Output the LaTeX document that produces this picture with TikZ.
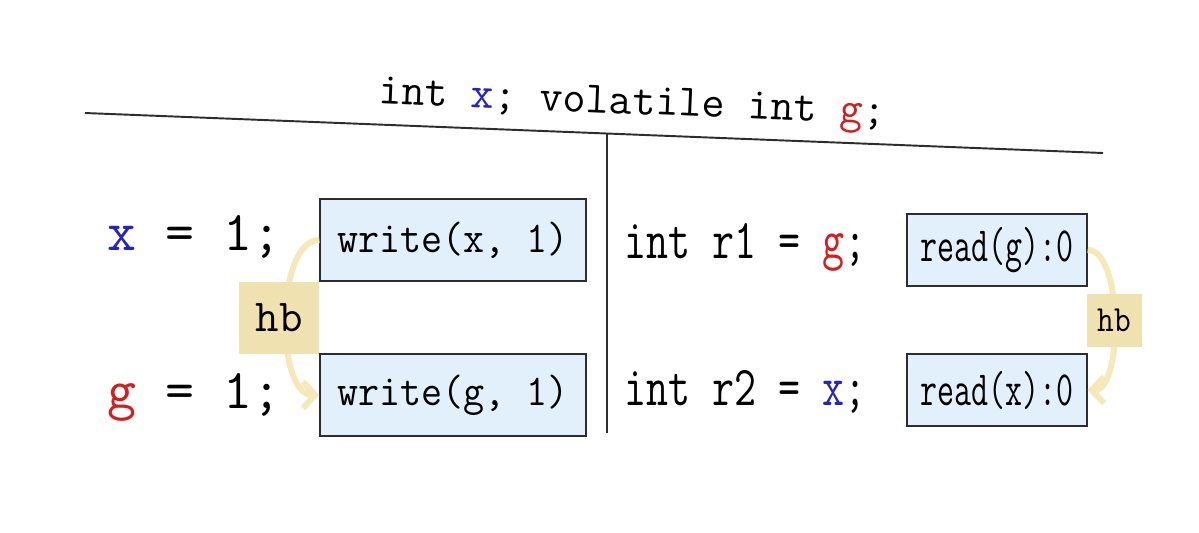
\documentclass[tikz,border=0pt]{standalone}
\usepackage{graphicx}
\usetikzlibrary{arrows.meta,positioning}
\definecolor{varblue} {RGB}{ 35, 35,200}
\definecolor{varred}  {RGB}{210, 30, 30}
\definecolor{evtblue} {RGB}{226,240,251}
\definecolor{hbtan}   {RGB}{240,225,176}
\definecolor{hbarrow} {RGB}{245,233,186}
\definecolor{rulegray}{RGB}{ 45, 45, 45}
\newcommand{\squeeze}[2]{\scalebox{#1}[1]{#2}}
\newcommand{\vx}{\textcolor{varblue}{x}}
\newcommand{\vg}{\textcolor{varred}{g}}
\tikzset{
  code/.style={font=\ttfamily\fontsize{32}{38}\selectfont,
               inner sep=0pt,anchor=base west},
  evt/.style={draw=rulegray,fill=evtblue,line width=0.8pt,
              minimum width=5.32cm,minimum height=1.64cm,inner sep=0pt,
              font=\ttfamily\fontsize{25}{30}\selectfont},
  evtread/.style={evt,minimum width=3.6cm,minimum height=1.44cm,
                  font=\ttfamily\fontsize{28}{33}\selectfont},
  hbarr/.style={draw=hbarrow,line width=3.4pt,
                -{Straight Barb[length=7pt,width=15pt]}},
  hblbl/.style={fill=hbtan,inner sep=0pt,minimum width=1.6cm,
                minimum height=1.44cm,
                font=\ttfamily\fontsize{26}{30}\selectfont},
  hblblsmall/.style={hblbl,minimum width=1.1cm,minimum height=1.06cm,
                     font=\ttfamily\fontsize{21}{25}\selectfont},
}
\begin{document}
\begin{tikzpicture}[x=0.02cm,y=-0.02cm]
  \useasboundingbox[fill=white] (0,0) rectangle (1199,532);

  % declarations and thread separator
  \node[font=\ttfamily\fontsize{25.5}{30}\selectfont,rotate=-2.4,anchor=base]
    (DECL) at (632,114) {int \vx; volatile int \vg;};
  \coordinate (HL) at (85,113);
  \coordinate (HR) at (1103,153);
  \coordinate (VT) at (607,133.5);
  \coordinate (VB) at (607,433);
  \draw[rulegray,line width=1.1pt] (HL) -- (HR);
  \draw[rulegray,line width=0.8pt] (VT) -- (VB);

  % thread 1
  \node[code] (X1) at (107,250) {\vx{} = 1;};
  \node[code] (G1) at (107,408) {\vg{} = 1;};
  \node[evt] (WX) at (453,240) {\squeeze{0.93}{write(x, 1)}};
  \node[evt] (WG) at (453,395) {\squeeze{0.93}{write(g, 1)}};

  % thread 2
  \node[code] (R1) at (624,258) {\squeeze{0.76}{int r1 = \vg;}};
  \node[code] (R2) at (624,405) {\squeeze{0.76}{int r2 = \vx;}};
  \node[evtread] (RG) at (997,250) {\squeeze{0.67}{read(g):0}};
  \node[evtread] (RX) at (997,390) {\squeeze{0.67}{read(x):0}};

  % happens-before edges
  \draw[hbarr] (WX.west) to[out=180,in=180,looseness=0.73]
    node[hblbl,xshift=-0.14cm]{hb} (WG.west);
  \draw[hbarr] (RG.east) to[out=0,in=0,looseness=0.65]
    node[hblblsmall]{\squeeze{0.88}{hb}} (RX.east);
\end{tikzpicture}
\end{document}
